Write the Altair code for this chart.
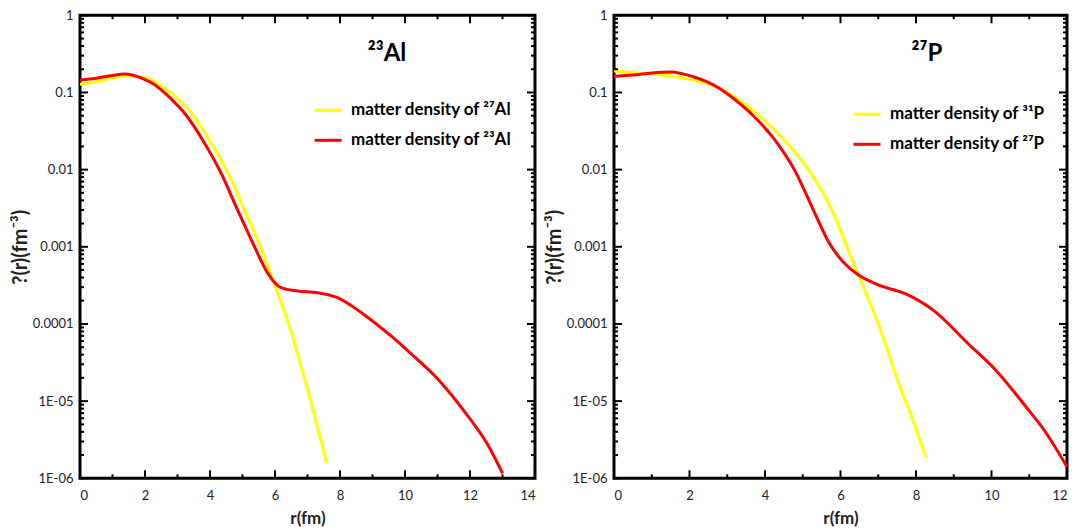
import altair as alt
import pandas as pd

# ---------------- data ----------------
# left panel: 27Al (yellow) and 23Al (red)
al27_r = [0, 0.5, 1.0, 1.4, 1.97, 2.4, 2.79, 3.1, 3.41, 3.7, 4.02, 4.54, 5.05, 5.54,
          5.97, 6.13, 6.48, 7.01, 7.59]
al27_rho = [0.128, 0.138, 0.155, 0.164, 0.157, 0.129, 0.100, 0.076, 0.055, 0.037, 0.0225,
            0.0092, 0.00306, 0.00102, 0.00034, 0.00022, 8.2e-5, 1.37e-5, 1.57e-6]
al23_r = [0, 0.5, 1.0, 1.36, 1.97, 2.3, 2.59, 2.9, 3.2, 3.82, 4.33, 4.84, 5.36, 5.77,
          6.18, 6.69, 7.3, 7.92, 8.71, 9.55, 10.19, 11.04, 11.89, 12.53, 13.0]
al23_rho = [0.145, 0.153, 0.166, 0.173, 0.149, 0.126, 0.100, 0.075, 0.055, 0.0225, 0.0092,
            0.00306, 0.00102, 0.00046, 0.000295, 0.000267, 0.000254, 0.000219, 0.000135,
            7.1e-5, 4.1e-5, 1.87e-5, 6.8e-6, 2.8e-6, 1.16e-6]

# right panel: 31P (yellow) and 27P (red)
p31_r = [0, 0.5, 1.0, 1.5, 2.0, 2.4, 2.82, 3.2, 3.69, 4.44, 5.18, 5.73, 6.35, 7.0, 7.55,
         7.92, 8.26]
p31_rho = [0.19, 0.181, 0.172, 0.163, 0.148, 0.133, 0.111, 0.087, 0.0575, 0.0263, 0.0095,
           0.0033, 0.0006, 1.0e-4, 1.67e-5, 5.6e-6, 1.87e-6]
p27_r = [0, 0.5, 1.0, 1.5, 2.1, 2.5, 2.82, 3.2, 3.69, 4.24, 4.79, 5.34, 5.7, 6.08, 6.45,
         7.0, 7.73, 8.47, 9.39, 10.12, 10.86, 11.41, 12.0]
p27_rho = [0.162, 0.168, 0.179, 0.184, 0.160, 0.135, 0.111, 0.081, 0.050, 0.025, 0.0097,
           0.0026, 0.00112, 0.00063, 0.00044, 0.00032, 0.000245, 0.000149, 5.5e-5, 2.5e-5,
           9.1e-6, 4.1e-6, 1.41e-6]

y_tick_values = [1e-6, 1e-5, 1e-4, 1e-3, 1e-2, 1e-1, 1]
y_tick_labels = ["1E-06", "1E-05", "0.0001", "0.001", "0.01", "0.1", "1"]
y_minor_values = [m * 10.0 ** e for e in range(-6, 0) for m in range(2, 10)]
x_ticks_left = [0, 2, 4, 6, 8, 10, 12, 14]
x_minor_left = [1, 3, 5, 7, 9, 11, 13]
x_ticks_right = [0, 2, 4, 6, 8, 10, 12]
x_minor_right = [1, 3, 5, 7, 9, 11]

legend_left = ["matter density of \u00b2\u2077Al", "matter density of \u00b2\u00b3Al"]
legend_right = ["matter density of \u00b3\u00b9P", "matter density of \u00b2\u2077P"]
title_left = "\u00b2\u00b3Al"
title_right = "\u00b2\u2077P"
y_title = "?(r)(fm\u207b\u00b3)"
x_title = "r(fm)"

# y label expression built from the label lists
parts = []
for v, lab in zip(y_tick_values[:-1], y_tick_labels[:-1]):
    parts.append(f"datum.value < {v * 3} ? '{lab}'")
y_label_expr = " : ".join(parts) + f" : '{y_tick_labels[-1]}'"

H = 463
FONT = "Lato"


def panel(xs_y, ys_y, xs_r, ys_r, xmax, xticks, xminor, legend_labels, title, W,
          legend_x, legend_y, title_x):
    xscale = alt.Scale(domain=[0, xmax], nice=False, zero=False)
    yscale = alt.Scale(type="log", domain=[1e-6, 1], nice=False)
    color = alt.Color(
        "series:N",
        scale=alt.Scale(domain=legend_labels, range=["#FFFF00", "#FF0000"]),
        legend=alt.Legend(
            title=None, orient="none", legendX=legend_x, legendY=legend_y,
            symbolType="stroke", symbolStrokeWidth=3, symbolSize=729,
            labelFontSize=17, labelFontWeight="bold", labelFont=FONT,
            labelColor="black", rowPadding=7, labelOffset=8, labelLimit=400,
        ),
    )
    xaxis = alt.Axis(values=xticks, format="d", title=x_title, grid=False, ticks=False,
                     tickSize=0, domain=False, labelPadding=11, labelFontSize=13,
                     labelColor="#222", labelFont=FONT, titleFont=FONT,
                     titleFontSize=17, titleFontWeight="bold", titleColor="#222",
                     titlePadding=8)
    yaxis = alt.Axis(values=y_tick_values, labelExpr=y_label_expr, title=y_title,
                     grid=False, ticks=False, tickSize=0, domain=False, labelPadding=7,
                     labelFontSize=13, labelColor="#222", labelFont=FONT,
                     titleFont=FONT, titleFontSize=20, titleFontWeight="bold",
                     titleColor="#222", titlePadding=2)

    df_y = pd.DataFrame({"r": xs_y, "rho": ys_y, "series": legend_labels[0]})
    df_r = pd.DataFrame({"r": xs_r, "rho": ys_r, "series": legend_labels[1]})

    line_y = alt.Chart(df_y).mark_line(strokeWidth=3, interpolate="monotone").encode(
        x=alt.X("r:Q", scale=xscale, axis=xaxis),
        y=alt.Y("rho:Q", scale=yscale, axis=yaxis),
        color=color,
    )
    line_r = alt.Chart(df_r).mark_line(strokeWidth=3, interpolate="monotone").encode(
        x=alt.X("r:Q", scale=xscale, axis=xaxis),
        y=alt.Y("rho:Q", scale=yscale, axis=yaxis),
        color=color,
    )

    def xt(vals, length):
        d = pd.DataFrame({"r": vals})
        bot = alt.Chart(d).mark_rule(color="black", strokeWidth=2).encode(
            x=alt.X("r:Q", scale=xscale, axis=xaxis), y=alt.value(H), y2=alt.value(H - length))
        top = alt.Chart(d).mark_rule(color="black", strokeWidth=2).encode(
            x=alt.X("r:Q", scale=xscale, axis=xaxis), y=alt.value(0), y2=alt.value(length))
        return [bot, top]

    def yt(vals, length):
        d = pd.DataFrame({"rho": vals})
        left = alt.Chart(d).mark_rule(color="black", strokeWidth=2).encode(
            y=alt.Y("rho:Q", scale=yscale, axis=yaxis), x=alt.value(0), x2=alt.value(length))
        right = alt.Chart(d).mark_rule(color="black", strokeWidth=2).encode(
            y=alt.Y("rho:Q", scale=yscale, axis=yaxis), x=alt.value(W), x2=alt.value(W - length))
        return [left, right]

    ttl = alt.Chart(pd.DataFrame({"label": [title]})).mark_text(
        font=FONT, fontSize=24, fontWeight="bold", color="black", align="center",
        baseline="middle").encode(text="label:N", x=alt.value(title_x), y=alt.value(39))

    layers = [line_y, line_r] + xt(xticks, 8) + xt(xminor, 4) + yt(y_tick_values, 8) \
        + yt(y_minor_values, 4) + [ttl]
    return alt.layer(*layers).properties(width=W, height=H)


left = panel(al27_r, al27_rho, al23_r, al23_rho, 14, x_ticks_left, x_minor_left,
             legend_left, title_left, 455, 233, 80, 307)
right = panel(p31_r, p31_rho, p27_r, p27_rho, 12, x_ticks_right, x_minor_right,
              legend_right, title_right, 453, 238, 84, 313)

chart = alt.hconcat(left, right, spacing=4).resolve_scale(
    color="independent", x="independent", y="independent"
).resolve_legend(color="independent").properties(
    padding={"left": 0, "top": -0.7, "right": -5, "bottom": 0}
).configure(font=FONT, view=alt.ViewConfig(stroke="black", strokeWidth=3))

chart.save("out.html", embed_options={"renderer": "svg", "actions": False})
